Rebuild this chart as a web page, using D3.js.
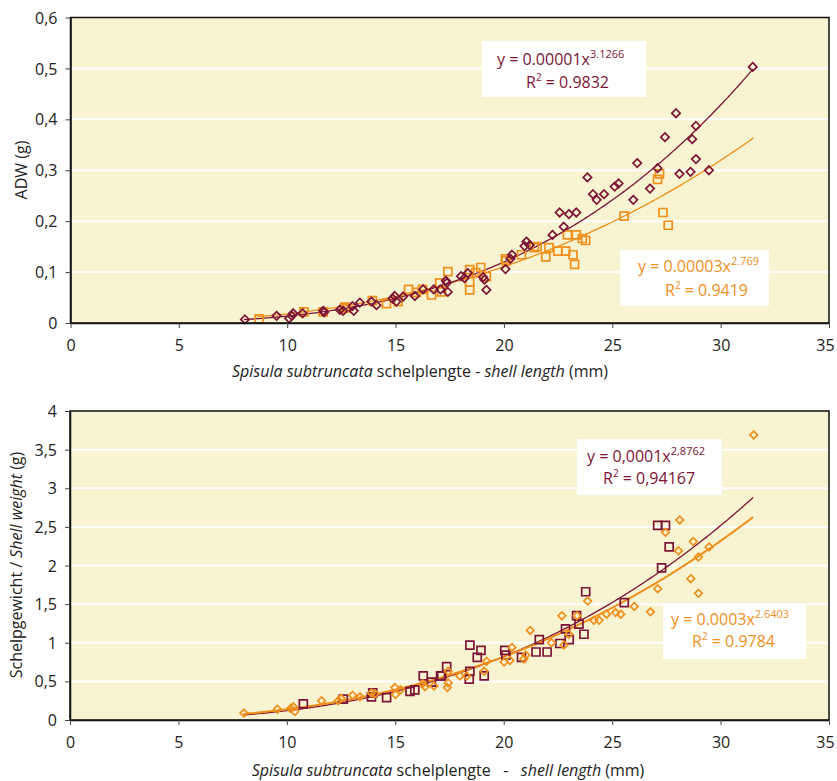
<!DOCTYPE html>
<html>
<head>
<meta charset="utf-8">
<script src="https://cdn.jsdelivr.net/npm/d3@7"></script>
<style>
  body { margin: 0; background: #fff; }
  svg text { font-family: "Open Sans", "Noto Sans", sans-serif; }
</style>
</head>
<body>
<svg id="chart" width="837" height="781"></svg>
<script>
// ---------- DATA ----------
// Top chart: ADW vs shell length
const adwDiamondX = [8.05,9.51,10.09,10.21,10.27,10.71,11.66,11.70,12.43,12.58,13.01,13.07,13.35,13.89,14.12,14.86,14.96,15.04,15.35,15.89,16.27,16.76,17.07,17.32,17.37,17.41,18.02,18.18,18.33,19.04,19.10,19.19,20.07,20.30,20.37,20.95,21.04,21.19,22.24,22.57,22.76,23.00,23.34,23.85,24.11,24.28,24.62,25.11,25.29,25.97,26.15,26.74,27.09,27.43,27.94,28.10,28.61,28.69,28.86,28.86,29.46,31.48];
const adwDiamondY = [0.007,0.014,0.009,0.014,0.019,0.019,0.024,0.021,0.026,0.024,0.033,0.024,0.040,0.042,0.035,0.048,0.053,0.042,0.052,0.053,0.066,0.066,0.066,0.083,0.079,0.061,0.092,0.088,0.098,0.090,0.085,0.065,0.106,0.126,0.134,0.151,0.160,0.153,0.173,0.217,0.189,0.214,0.217,0.286,0.253,0.242,0.253,0.268,0.274,0.242,0.314,0.264,0.304,0.365,0.412,0.293,0.297,0.361,0.387,0.322,0.300,0.503];
const adwSquareX = [8.7,10.77,11.66,12.66,12.74,13.93,14.58,15.12,15.60,15.96,16.24,16.66,17.04,17.12,17.41,18.42,18.42,18.42,18.70,18.93,19.19,20.07,20.10,20.81,21.40,21.53,21.93,22.08,22.49,22.85,22.93,23.19,23.26,23.34,23.62,23.77,25.55,27.09,27.18,27.34,27.58];
const adwSquareY = [0.008,0.022,0.022,0.031,0.029,0.044,0.038,0.042,0.066,0.060,0.066,0.055,0.079,0.061,0.101,0.105,0.081,0.065,0.099,0.109,0.091,0.126,0.122,0.134,0.148,0.150,0.130,0.148,0.141,0.141,0.173,0.134,0.115,0.173,0.166,0.162,0.210,0.282,0.293,0.217,0.192];

// Bottom chart: shell weight vs shell length
const shellSquareX = [10.76,12.60,13.90,13.96,14.60,15.68,15.90,16.29,16.67,17.09,17.14,17.37,18.41,18.44,18.44,18.78,18.95,19.10,20.05,20.10,20.82,21.49,21.64,22.00,22.59,22.85,23.02,23.36,23.47,23.70,23.78,25.56,27.10,27.28,27.46,27.63];
const shellSquareY = [0.21,0.27,0.30,0.35,0.29,0.37,0.39,0.57,0.49,0.57,0.57,0.69,0.53,0.97,0.63,0.81,0.90,0.57,0.90,0.84,0.81,0.88,1.04,0.88,0.99,1.18,1.04,1.35,1.24,1.11,1.66,1.52,2.52,1.97,2.52,2.24];
const shellDiamondX = [8.02,9.56,10.17,10.30,10.37,11.60,12.37,12.50,13.03,13.37,13.90,14.06,14.98,15.01,15.25,16.26,16.37,16.78,17.40,17.44,17.44,17.98,18.29,19.10,19.21,20.02,20.29,20.38,20.93,21.02,21.22,22.20,22.68,22.78,23.00,23.38,23.87,24.16,24.40,24.74,25.16,25.40,26.02,26.77,27.10,27.46,28.06,28.12,28.63,28.74,28.98,28.98,29.47,31.53];
const shellDiamondY = [0.09,0.14,0.15,0.17,0.11,0.25,0.25,0.28,0.32,0.30,0.35,0.34,0.42,0.33,0.39,0.47,0.43,0.44,0.42,0.48,0.63,0.57,0.57,0.63,0.76,0.75,0.77,0.94,0.79,0.84,1.16,1.00,1.35,0.97,1.11,1.35,1.54,1.29,1.29,1.37,1.39,1.37,1.47,1.40,1.70,2.43,2.19,2.59,1.83,2.31,2.11,1.64,2.24,3.69];

// Power trendlines as drawn (a, b, xmin, xmax)
const adwDiamondTrend = [9.85e-6, 3.14, 8.0, 31.5];
const adwSquareTrend  = [4.385e-5, 2.615, 8.6, 31.5];
const shellSquareTrend  = [2.08e-4, 2.764, 8.0, 31.5];
const shellDiamondTrend = [3.77e-4, 2.565, 8.0, 31.5];

// Axis ticks and labels
const xTicks = [0,5,10,15,20,25,30,35];
const adwTicks = [0,0.1,0.2,0.3,0.4,0.5,0.6];
const adwTickLabels = ["0","0,1","0,2","0,3","0,4","0,5","0,6"];
const shellTicks = [0,0.5,1,1.5,2,2.5,3,3.5,4];
const shellTickLabels = ["0","0,5","1","1,5","2","2,5","3","3,5","4"];

// Equation labels
const adwDiamondEq = ["y = 0.00001x", "3.1266", "R", "2", " = 0.9832"];
const adwSquareEq = ["y = 0.00003x", "2.769", "R", "2", " = 0.9419"];
const shellSquareEq = ["y = 0,0001x", "2,8762", "R", "2", " = 0,94167"];
const shellDiamondEq = ["y = 0.0003x", "2.6403", "R", "2", " = 0.9784"];

// ---------- STYLE ----------
const MAROON = "#7c1436";
const ORANGE = "#ef8f1c";
const BG = "#f8f3d0";

const svg = d3.select("#chart");

function diamondPath(s) { return `M0,${-s}L${s},0L0,${s}L${-s},0Z`; }
function squarePath(s) { return `M${-s},${-s}H${s}V${s}H${-s}Z`; }

function panel(cfg) {
  const g = svg.append("g");
  const x = d3.scaleLinear().domain([0,35]).range([cfg.left, cfg.right]);
  const y = d3.scaleLinear().domain([0, cfg.ymax]).range([cfg.bottom, cfg.top]);

  g.append("rect").attr("x", cfg.left).attr("y", cfg.top)
    .attr("width", cfg.right - cfg.left).attr("height", cfg.bottom - cfg.top)
    .attr("fill", BG);

  // gridlines
  g.selectAll(".grid").data(cfg.yTicks.filter(v => v > 0 && v < cfg.ymax)).join("line")
    .attr("x1", cfg.left).attr("x2", cfg.right)
    .attr("y1", d => y(d)).attr("y2", d => y(d))
    .attr("stroke", "#ffffff").attr("stroke-width", 2);

  // trendlines
  const line = d3.line().x(d => x(d[0])).y(d => y(d[1]));
  cfg.trends.forEach(t => {
    const p = t.params;
    const pts = d3.range(p[2], p[3] + 1e-9, 0.1).map(v => [v, p[0] * Math.pow(v, p[1])]);
    g.append("path").attr("d", line(pts)).attr("fill", "none")
      .attr("stroke", t.color).attr("stroke-width", t.width);
  });

  // markers
  cfg.series.forEach(s => {
    g.selectAll(null).data(d3.zip(s.xs, s.ys)).join("path")
      .attr("transform", d => `translate(${x(d[0])},${y(d[1])})`)
      .attr("d", s.shape === "diamond" ? diamondPath(s.size) : squarePath(s.size))
      .attr("fill", "none").attr("stroke", s.color).attr("stroke-width", 1.7);
  });

  // border
  g.append("rect").attr("x", cfg.left).attr("y", cfg.top)
    .attr("width", cfg.right - cfg.left).attr("height", cfg.bottom - cfg.top)
    .attr("fill", "none").attr("stroke", "#111").attr("stroke-width", 1.5);

  // axes
  const xa = g.append("g").attr("transform", `translate(0,${cfg.bottom})`)
    .call(d3.axisBottom(x).tickValues(xTicks).tickSizeInner(5).tickSizeOuter(0).tickFormat(d3.format("d")));
  xa.select(".domain").attr("stroke", "#111").attr("stroke-width", 1.5);
  xa.selectAll(".tick line").attr("stroke", "#444");
  xa.selectAll(".tick text").attr("y", 0).attr("dy", 0)
    .attr("transform", d => d === 35 ? "translate(-4,28)" : "translate(0,28)")
    .attr("font-size", 16).attr("fill", "#222");

  const ya = g.append("g").attr("transform", `translate(${cfg.left},0)`)
    .call(d3.axisLeft(y).tickValues(cfg.yTicks).tickSizeInner(5).tickSizeOuter(0)
      .tickFormat((d, i) => cfg.yLabels[i]));
  ya.select(".domain").attr("stroke", "#111").attr("stroke-width", 1.5);
  ya.selectAll(".tick line").attr("stroke", "#444");
  ya.selectAll(".tick text").attr("x", -13).attr("dy", "0.35em")
    .attr("font-size", 16).attr("fill", "#222");

  // x title
  const xt = g.append("text").attr("x", cfg.xTitleX).attr("y", cfg.xTitleY)
    .attr("text-anchor", "middle").attr("font-size", 16).attr("fill", "#222")
    .attr("xml:space", "preserve").style("white-space", "pre");
  cfg.xTitle.forEach(part => {
    xt.append("tspan").text(part[0]).attr("font-style", part[1] ? "italic" : "normal");
  });
  // y title
  const yt = g.append("text")
    .attr("transform", `translate(${cfg.yTitleX},${cfg.yTitleY}) rotate(-90)`)
    .attr("text-anchor", "middle").attr("font-size", 16).attr("fill", "#222");
  cfg.yTitle.forEach(part => {
    yt.append("tspan").text(part[0]).attr("font-style", part[1] ? "italic" : "normal");
  });

  // equation boxes
  cfg.boxes.forEach(b => {
    g.append("rect").attr("x", b.x).attr("y", b.y).attr("width", b.w).attr("height", b.h)
      .attr("fill", "#ffffff");
    const t1 = g.append("text").attr("x", b.l1x).attr("y", b.l1y)
      .attr("font-size", 16).attr("fill", b.color);
    t1.append("tspan").text(b.eq[0]);
    t1.append("tspan").text(b.eq[1]).attr("font-size", 11).attr("dy", -7);
    const t2 = g.append("text").attr("x", b.l2x).attr("y", b.l2y)
      .attr("font-size", 16).attr("fill", b.color);
    t2.append("tspan").text(b.eq[2]);
    t2.append("tspan").text(b.eq[3]).attr("font-size", 10).attr("dy", -7);
    t2.append("tspan").text(b.eq[4]).attr("dy", 7);
  });
}

panel({
  left: 70.5, right: 829, top: 17.5, bottom: 323, ymax: 0.6,
  yTicks: adwTicks, yLabels: adwTickLabels,
  xTitle: [["Spisula subtruncata", true], [" schelplengte - ", false], ["shell length", true], [" (mm)", false]],
  xTitleX: 420, xTitleY: 377,
  yTitle: [["ADW (g)", false]], yTitleX: 27, yTitleY: 170,
  trends: [
    { params: adwSquareTrend, color: ORANGE, width: 1.3 },
    { params: adwDiamondTrend, color: MAROON, width: 1.3 }
  ],
  series: [
    { xs: adwSquareX, ys: adwSquareY, shape: "square", size: 4, color: ORANGE },
    { xs: adwDiamondX, ys: adwDiamondY, shape: "diamond", size: 4.2, color: MAROON }
  ],
  boxes: [
    { x: 482, y: 41, w: 164, h: 56, color: MAROON, eq: adwDiamondEq, l1x: 497, l1y: 65, l2x: 526, l2y: 88 },
    { x: 620, y: 250, w: 149, h: 56, color: ORANGE, eq: adwSquareEq, l1x: 638, l1y: 272, l2x: 665, l2y: 296 }
  ]
});

panel({
  left: 70, right: 829, top: 411, bottom: 720, ymax: 4,
  yTicks: shellTicks, yLabels: shellTickLabels,
  xTitle: [["Spisula subtruncata", true], [" schelplengte   -   ", false], ["shell length", true], [" (mm)", false]],
  xTitleX: 448, xTitleY: 776,
  yTitle: [["Schelpgewicht / ", false], ["Shell weight", true], [" (g)", false]], yTitleX: 22, yTitleY: 565,
  trends: [
    { params: shellSquareTrend, color: MAROON, width: 1.3 },
    { params: shellDiamondTrend, color: ORANGE, width: 2 }
  ],
  series: [
    { xs: shellSquareX, ys: shellSquareY, shape: "square", size: 4, color: MAROON },
    { xs: shellDiamondX, ys: shellDiamondY, shape: "diamond", size: 3.8, color: ORANGE }
  ],
  boxes: [
    { x: 577, y: 439, w: 145, h: 56, color: MAROON, eq: shellSquareEq, l1x: 587, l1y: 462, l2x: 603, l2y: 484 },
    { x: 663, y: 604, w: 143, h: 55, color: ORANGE, eq: shellDiamondEq, l1x: 671, l1y: 625, l2x: 692, l2y: 647 }
  ]
});
</script>
</body>
</html>
